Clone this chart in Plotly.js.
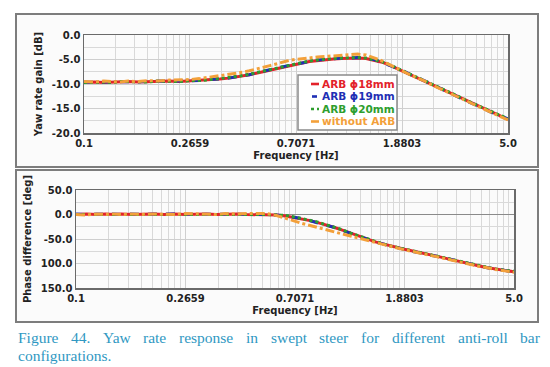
<!DOCTYPE html>
<html>
<head>
<meta charset="utf-8">
<script src="https://cdn.plot.ly/plotly-3.0.1.min.js"></script>
<style>html,body{margin:0;padding:0;background:#fff;}#chart{width:550px;height:367px;}</style>
</head>
<body>
<div id="chart"></div>
<script>
// ---------- data ----------
const freq = [0.1,0.11,0.12,0.13,0.14,0.15,0.165,0.18,0.2,0.22,0.24,0.265,0.29,0.32,0.35,0.38,0.42,0.46,0.5,0.55,0.6,0.65,0.7,0.75,0.8,0.86,0.92,1.0,1.08,1.16,1.25,1.35,1.45,1.55,1.65,1.75,1.88,2.0,2.15,2.3,2.5,2.7,2.9,3.1,3.35,3.6,3.9,4.2,4.6,5.0];

const gainARB18 = [-9.7,-9.6,-9.7,-9.6,-9.6,-9.5,-9.6,-9.5,-9.5,-9.4,-9.5,-9.4,-9.3,-9.2,-9.0,-8.8,-8.5,-8.1,-7.7,-7.2,-6.8,-6.4,-6.0,-5.7,-5.4,-5.2,-5.0,-4.9,-4.8,-4.7,-4.7,-4.8,-5.1,-5.5,-6.0,-6.6,-7.3,-7.9,-8.6,-9.3,-10.2,-11.0,-11.7,-12.4,-13.2,-14.0,-14.8,-15.5,-16.4,-17.2];
const gainARB19 = [-9.6,-9.7,-9.6,-9.6,-9.5,-9.6,-9.5,-9.5,-9.4,-9.5,-9.4,-9.4,-9.3,-9.1,-9.0,-8.8,-8.4,-8.1,-7.6,-7.2,-6.7,-6.3,-6.0,-5.6,-5.4,-5.1,-5.0,-4.8,-4.7,-4.7,-4.6,-4.8,-5.0,-5.5,-6.0,-6.5,-7.2,-7.9,-8.6,-9.4,-10.1,-11.0,-11.8,-12.4,-13.3,-14.0,-14.7,-15.6,-16.4,-17.1];
const gainARB20 = [-9.7,-9.6,-9.6,-9.7,-9.5,-9.5,-9.5,-9.6,-9.4,-9.4,-9.5,-9.3,-9.3,-9.1,-8.9,-8.7,-8.4,-8.0,-7.6,-7.1,-6.7,-6.3,-5.9,-5.6,-5.3,-5.1,-4.9,-4.8,-4.7,-4.6,-4.6,-4.7,-5.0,-5.4,-5.9,-6.5,-7.2,-7.8,-8.5,-9.3,-10.1,-10.9,-11.7,-12.3,-13.2,-13.9,-14.7,-15.5,-16.3,-17.1];
const gainNoARB = [-9.5,-9.6,-9.4,-9.5,-9.6,-9.4,-9.5,-9.3,-9.4,-9.2,-9.2,-9.1,-8.9,-8.6,-8.4,-8.1,-7.7,-7.3,-6.9,-6.3,-5.8,-5.3,-5.0,-4.8,-4.6,-4.5,-4.4,-4.3,-4.2,-4.0,-3.9,-4.1,-4.6,-5.2,-5.9,-6.6,-7.3,-8.0,-8.7,-9.3,-10.3,-11.1,-11.8,-12.5,-13.3,-14.1,-14.9,-15.6,-16.5,-17.3];

const phaseARB18 = [0,1,0,1,0,1,0,1,1,0,1,0,1,1,0,1,1,0,0,0,-1,-3,-6,-8,-12,-16,-20,-26,-32,-38,-45,-51,-56,-60,-64,-67,-71,-74,-78,-81,-85,-89,-93,-96,-100,-104,-108,-111,-114,-117];
const phaseARB19 = [1,0,1,0,1,0,1,0,1,1,0,1,0,1,1,0,1,1,0,0,-1,-3,-5,-8,-12,-16,-21,-26,-32,-39,-45,-51,-56,-60,-64,-68,-71,-75,-78,-82,-85,-89,-93,-97,-100,-104,-108,-111,-114,-117];
const phaseARB20 = [0,0,1,1,0,0,1,1,0,1,1,0,1,0,1,1,0,1,1,0,-1,-2,-5,-8,-11,-15,-20,-25,-31,-38,-44,-50,-55,-60,-64,-67,-71,-74,-78,-81,-85,-89,-93,-96,-100,-104,-107,-111,-114,-116];
const phaseNoARB = [0,-1,1,0,1,0,1,0,1,1,0,2,1,1,0,2,1,2,2,2,-2,-7,-13,-18,-22,-27,-31,-36,-40,-44,-48,-52,-57,-61,-65,-68,-72,-75,-79,-82,-86,-90,-94,-97,-101,-105,-108,-112,-115,-118];

const seriesNames = ['ARB \u03D518mm','ARB \u03D519mm','ARB \u03D520mm','without ARB'];
const xTickVals = [0.1,0.2659,0.7071,1.8803,5.0];
const xTickText = ['0.1','0.2659','0.7071','1.8803','5.0'];
const gainTickVals = [0,-5,-10,-15,-20];
const gainTickText = ['0.0','-5.0','-10.0','-15.0','-20.0'];
const phaseTickVals = [50,0,-50,-100,-150];
const phaseTickText = ['50.0','0.0','-50.0','100.0','150.0'];
const captionLine1 = ['Figure','44.','Yaw','rate','response','in','swept','steer','for','different','anti-roll','bar'];
const captionLine2 = 'configurations.';

// ---------- style ----------
const colors = ['#e3222a','#1f2fb4','#2e9e2e','#f3a03a'];
const dashes = ['solid','dash','dot','dashdot'];
const W = 550, H = 367;
const px = x => x / W;
const py = y => 1 - y / H;

// minor grid positions: each tick interval subdivided like a decade
const ratio = Math.pow(50, 0.25);
const minorVals = [];
for (let k = 0; k < 4; k++) {
  for (let m = 2; m <= 9; m++) minorVals.push(xTickVals[k] * Math.pow(ratio, Math.log10(m)));
}

const tickFont = {family: 'DejaVu Sans', size: 10, color: '#222', weight: 'bold'};
const titleFont = {family: 'DejaVu Sans', size: 10, color: '#222', weight: 'bold'};

const gains = [gainARB18, gainARB19, gainARB20, gainNoARB];
const phases = [phaseARB18, phaseARB19, phaseARB20, phaseNoARB];
const traces = [];
for (let i = 0; i < 4; i++) {
  traces.push({x: freq, y: gains[i], type: 'scatter', mode: 'lines', name: seriesNames[i],
    line: {color: colors[i], width: 3, dash: dashes[i]}, xaxis: 'x', yaxis: 'y', showlegend: false});
}
for (let i = 0; i < 4; i++) {
  traces.push({x: freq, y: phases[i], type: 'scatter', mode: 'lines', name: seriesNames[i],
    line: {color: colors[i], width: 3, dash: dashes[i]}, xaxis: 'x2', yaxis: 'y2', showlegend: false});
}

function xAxis(domain, anchor) {
  return {
    type: 'log', range: [-1, Math.log10(5)], domain: domain, anchor: anchor,
    tickmode: 'array', tickvals: xTickVals, ticktext: xTickText, ticks: '',
    showgrid: true, gridcolor: '#cfcfcf', gridwidth: 1,
    minor: {tickmode: 'array', tickvals: minorVals, showgrid: true, gridcolor: '#d9d9d9', gridwidth: 1, ticks: ''},
    showline: true, mirror: true, linecolor: '#6a6a6a', linewidth: 1.5,
    tickfont: tickFont, zeroline: false,
    title: {text: 'Frequency [Hz]', font: titleFont, standoff: 4}
  };
}

const layout = {
  width: W, height: H, autosize: false,
  margin: {l: 0, r: 0, t: 0, b: 0, pad: 0},
  paper_bgcolor: '#ffffff', plot_bgcolor: '#ffffff',
  showlegend: false,
  xaxis: xAxis([px(84), px(508)], 'y'),
  yaxis: {
    range: [-20, 0], domain: [py(133), py(35)], anchor: 'x',
    tickmode: 'array', tickvals: gainTickVals, ticktext: gainTickText, ticks: '',
    showgrid: true, gridcolor: '#cfcfcf',
    minor: {dtick: 2.5, showgrid: true, gridcolor: '#d9d9d9', ticks: ''},
    showline: true, mirror: true, linecolor: '#6a6a6a', linewidth: 1.5,
    zeroline: false, tickfont: tickFont,
    title: {text: 'Yaw rate gain [dB]', font: titleFont, standoff: 7}
  },
  xaxis2: xAxis([px(76), px(514)], 'y2'),
  yaxis2: {
    range: [-150, 50], domain: [py(288), py(190)], anchor: 'x2',
    tickmode: 'array', tickvals: phaseTickVals, ticktext: phaseTickText, ticks: '',
    showgrid: true, gridcolor: '#cfcfcf',
    minor: {dtick: 25, showgrid: true, gridcolor: '#d9d9d9', ticks: ''},
    showline: true, mirror: true, linecolor: '#6a6a6a', linewidth: 1.5,
    zeroline: true, zerolinecolor: '#8a8a8a', zerolinewidth: 1.5, tickfont: tickFont,
    title: {text: 'Phase difference [deg]', font: titleFont, standoff: 7}
  },
  shapes: [
    {type: 'rect', xref: 'paper', yref: 'paper', x0: px(16), x1: px(538), y0: py(167), y1: py(14),
      line: {color: '#7d7d7d', width: 2}, fillcolor: '#fbfbfb', layer: 'below'},
    {type: 'rect', xref: 'paper', yref: 'paper', x0: px(16), x1: px(538), y0: py(322), y1: py(170),
      line: {color: '#7d7d7d', width: 2}, fillcolor: '#fbfbfb', layer: 'below'},
    // legend box
    {type: 'rect', xref: 'paper', yref: 'paper', x0: px(298), x1: px(397), y0: py(130), y1: py(75),
      line: {color: '#8a8a8a', width: 1.5}, fillcolor: '#ffffff', layer: 'above'}
  ],
  annotations: []
};

// legend samples and labels
const legRows = [84, 96.5, 109, 121.5];
const sampleX = [[311, 319], [312, 317], [311, 319], [311, 319]];
for (let i = 0; i < 4; i++) {
  layout.shapes.push({type: 'line', xref: 'paper', yref: 'paper',
    x0: px(sampleX[i][0]), x1: px(sampleX[i][1]), y0: py(legRows[i]), y1: py(legRows[i]),
    line: {color: colors[i], width: 2.6, dash: i === 2 ? 'dot' : 'solid'}, layer: 'above'});
  layout.annotations.push({xref: 'paper', yref: 'paper', x: px(320), y: py(legRows[i]),
    xanchor: 'left', yanchor: 'middle', showarrow: false, text: seriesNames[i],
    font: {family: 'DejaVu Sans', size: 10.5, color: colors[i], weight: 'bold'}});
}

// caption (justified first line)
const capFont = {family: 'Liberation Serif', size: 15.5, color: '#2f98c2'};
const cv = document.createElement('canvas').getContext('2d');
cv.font = capFont.size + 'px "Liberation Serif"';
const widths = captionLine1.map(w => cv.measureText(w).width);
const total = widths.reduce((a, b) => a + b, 0);
const left = 16, right = 538;
const gap = (right - left - total) / (captionLine1.length - 1);
let cx = left;
captionLine1.forEach((w, i) => {
  layout.annotations.push({xref: 'paper', yref: 'paper', x: px(cx), y: py(337), xanchor: 'left', yanchor: 'middle',
    showarrow: false, text: w, font: capFont});
  cx += widths[i] + gap;
});
layout.annotations.push({xref: 'paper', yref: 'paper', x: px(left), y: py(355), xanchor: 'left', yanchor: 'middle',
  showarrow: false, text: captionLine2, font: capFont});

Plotly.newPlot('chart', traces, layout, {displayModeBar: false, staticPlot: true});
</script>
</body>
</html>
